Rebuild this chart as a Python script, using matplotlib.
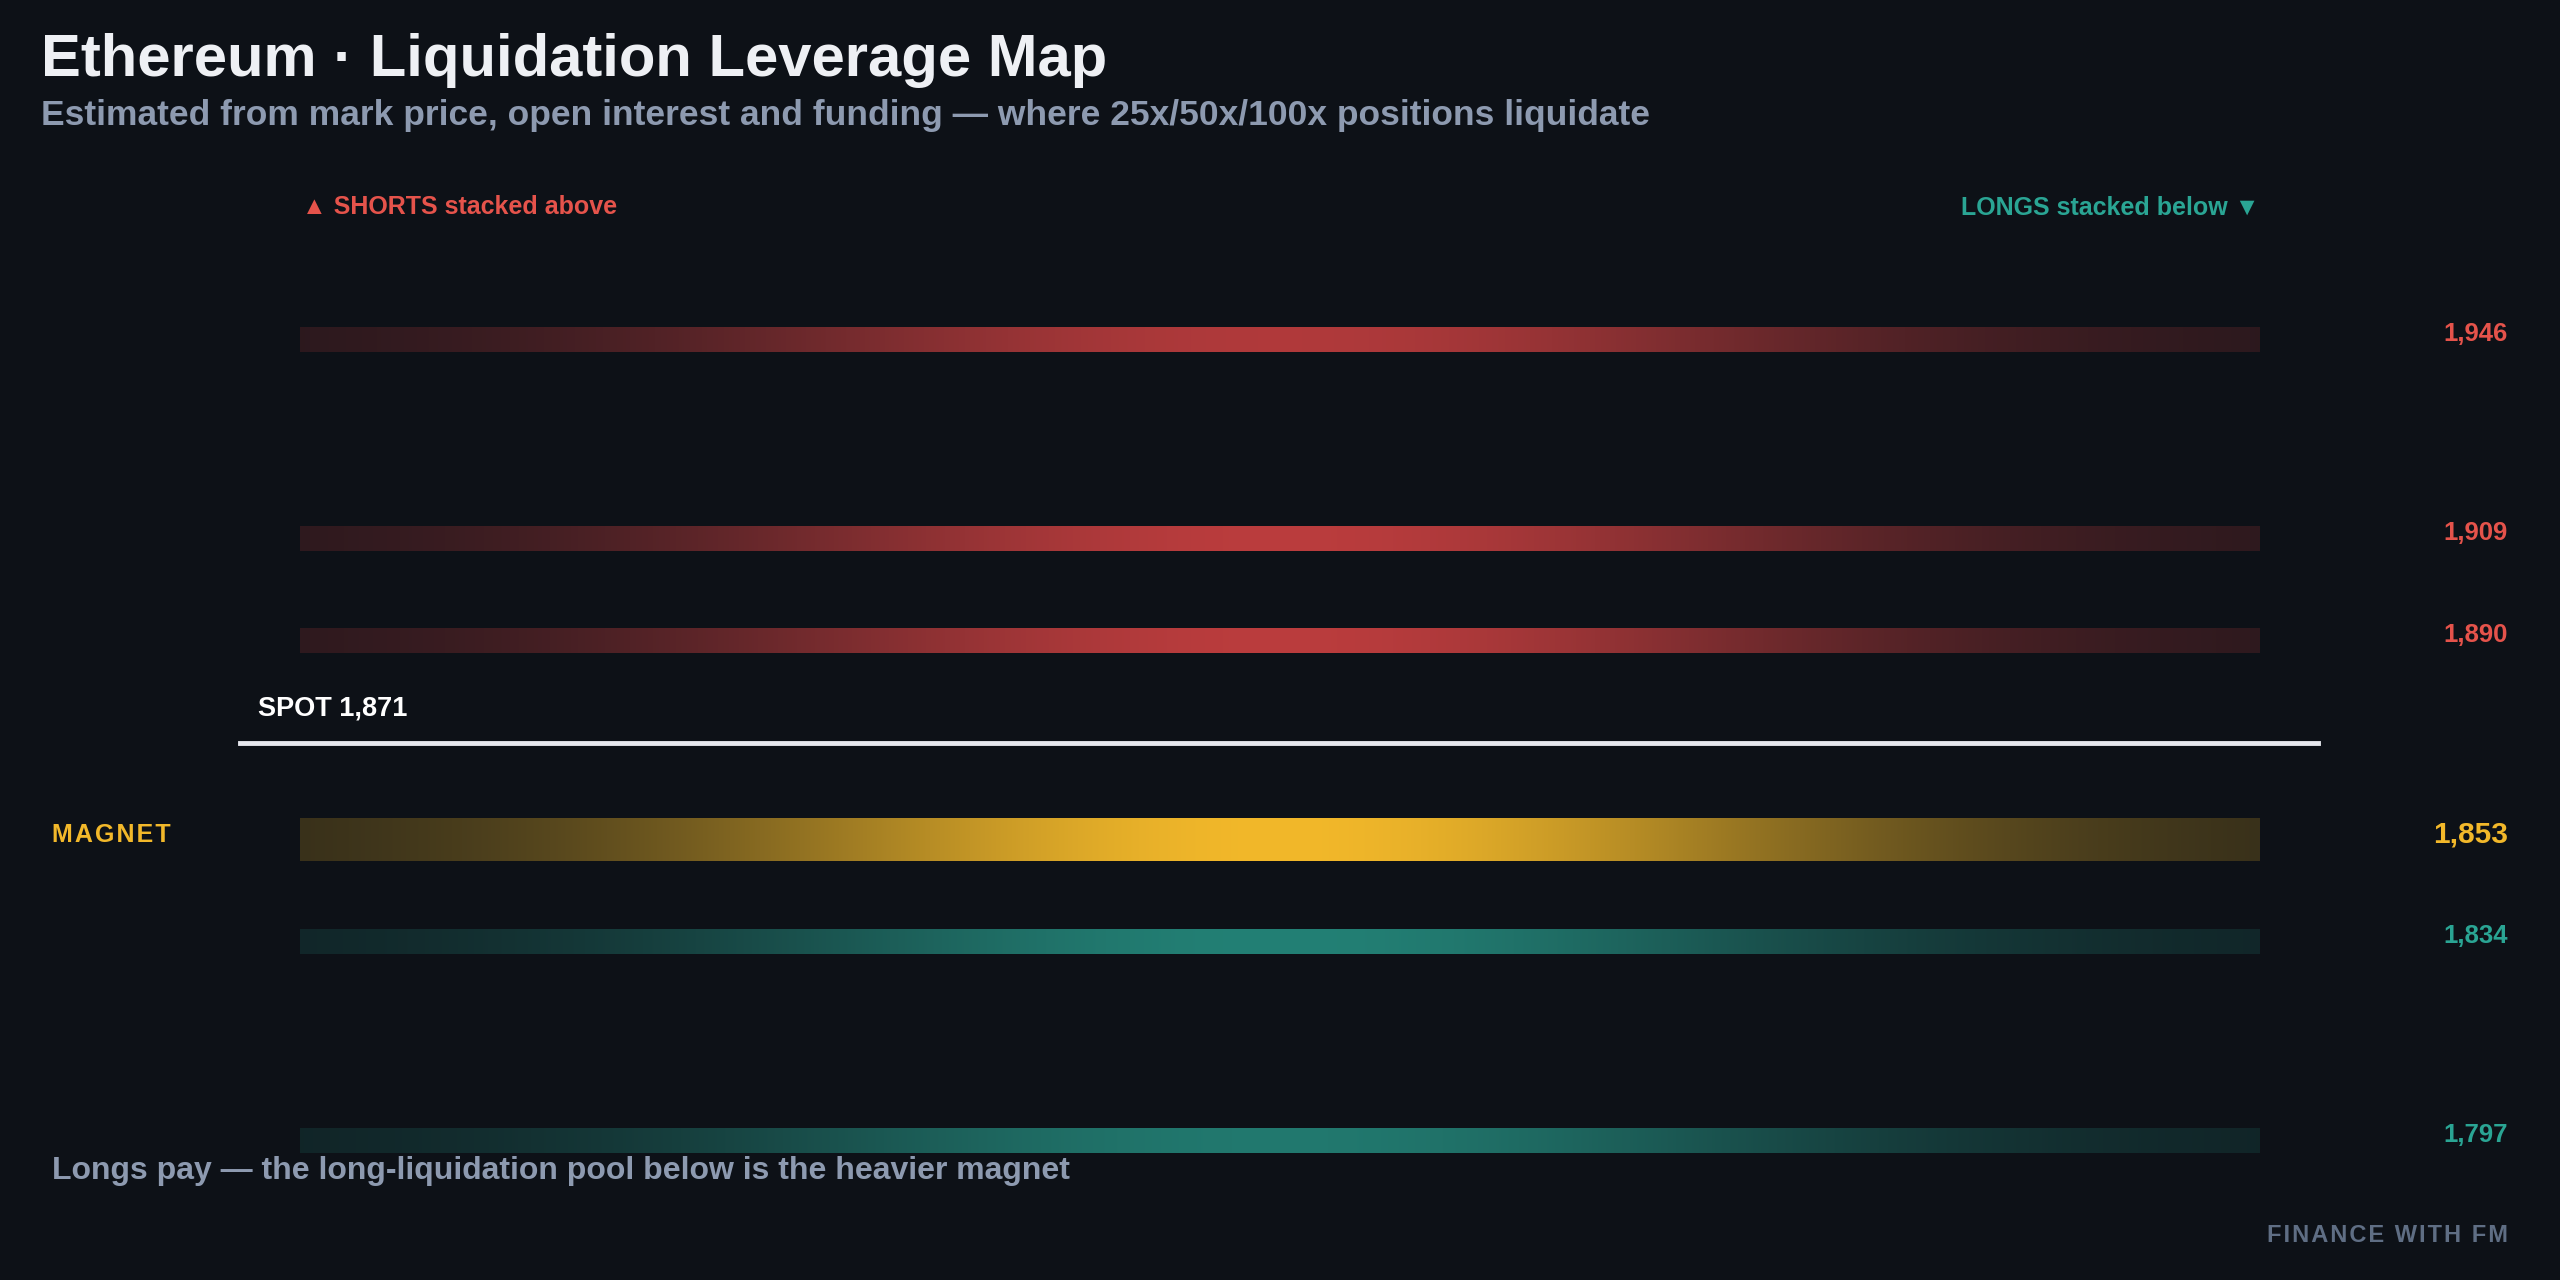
import numpy as np
import matplotlib
matplotlib.use("Agg")
import matplotlib.pyplot as plt
from matplotlib.colors import to_rgb

plt.rcParams['font.family'] = ['Liberation Sans', 'DejaVu Sans']

BG = "#0d1117"
RED = "#e5534b"
TEAL = "#2aa594"
GOLD = "#f2b82a"

# data
levels = [1946, 1909, 1890, 1853, 1834, 1797]
sides = ["short", "short", "short", "magnet", "long", "long"]
weights = [0.8, 0.85, 0.85, 1.0, 0.75, 0.7]
spot = 1871
title = "Ethereum · Liquidation Leverage Map"
subtitle = "Estimated from mark price, open interest and funding — where 25x/50x/100x positions liquidate"
note = "Longs pay — the long-liquidation pool below is the heavier magnet"

colors = {"short": "#d94444", "long": TEAL, "magnet": GOLD}
label_colors = {"short": RED, "long": TEAL, "magnet": GOLD}

W, H = 1568, 784  # layout units (pixels of a half-scale canvas)
fig = plt.figure(figsize=(25.6, 12.8), dpi=100, facecolor=BG)
ax = fig.add_axes([0, 0, 1, 1])
ax.set_facecolor(BG)
ax.axis("off")

# price axis: y_px = 208 + (1946 - p) * k
k = 3.295
ax.set_xlim(0, W)
ax.set_ylim(1946 - (H - 208) / k, 1946 + 208 / k)

x0, x1 = 184, 1384
t = np.linspace(-1, 1, 600)
prof = 0.14 + 0.86 * np.exp(-(t / 0.6) ** 2)
bg = np.array(to_rgb(BG))

for p, side, w in zip(levels, sides, weights):
    c = np.array(to_rgb(colors[side]))
    a = (prof * w)[:, None]
    rgb = bg + (c - bg) * a
    img = rgb[None, :, :]
    half = (13 if side == "magnet" else 7.5) / k
    ax.imshow(img, extent=[x0, x1, p - half, p + half], aspect="auto",
              interpolation="bilinear", zorder=2)
    is_mag = side == "magnet"
    ax.text(1536, p + 3.5 / k, f"{p:,}", ha="right", va="center",
            color=label_colors[side], fontsize=21.5 if is_mag else 18.5,
            fontweight="bold", zorder=3)

ax.plot([147, 1420], [spot, spot], color="#e6e8ee", lw=3.5, zorder=3)
ax.text(158, spot + 21 / k, f"SPOT {spot:,}", color="white", fontsize=19.5,
        fontweight="bold", va="center")
ax.text(32, 1853 + 3 / k, "\u200a".join("MAGNET"), color=GOLD,
        fontsize=18, fontweight="bold", va="center")

def ftext(x, y, s, **kw):
    fig.text(x / W, 1 - y / H, s, **kw)

ftext(25, 37, title, color="#eef0f4", fontsize=43, fontweight="bold", va="center")
ftext(25, 71, subtitle, color="#8d9ab0", fontsize=25.5, fontweight="bold", va="center")
ftext(185, 127, "▲ SHORTS stacked above", color=RED, fontsize=18,
      fontweight="bold", va="center")
ftext(1384, 127, "LONGS stacked below ▼", color=TEAL, fontsize=18,
      fontweight="bold", va="center", ha="right")
ftext(32, 717, note, color="#8d9ab0", fontsize=23, fontweight="bold", va="center")
ftext(1536, 757, "\u200a".join("FINANCE WITH FM"),
      color="#5f6e84", fontsize=17, fontweight="bold", va="center", ha="right")

fig.savefig("out.png", dpi=100, facecolor=BG)
